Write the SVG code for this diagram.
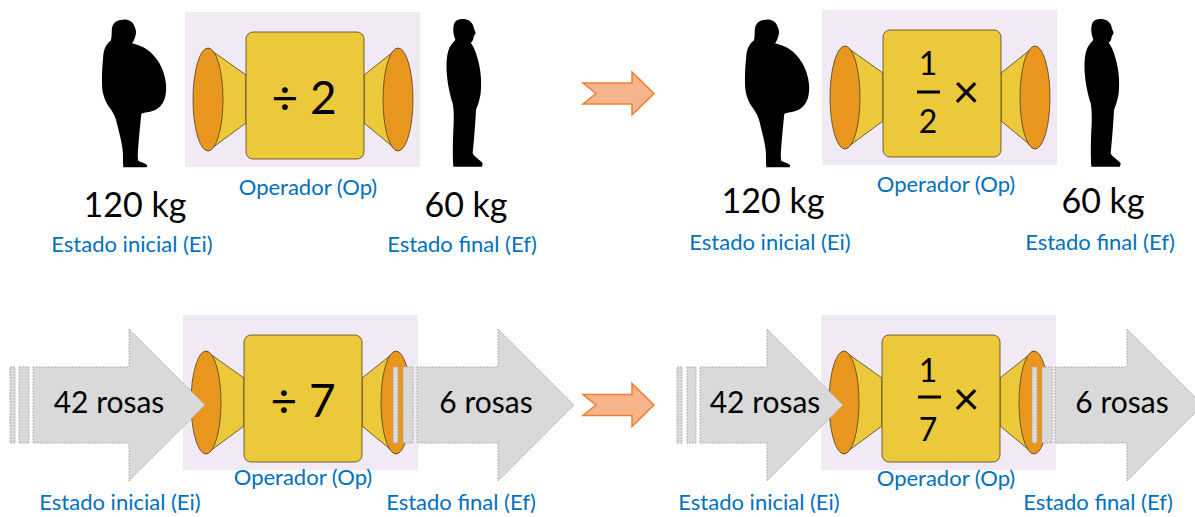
<svg xmlns="http://www.w3.org/2000/svg" xmlns:xlink="http://www.w3.org/1999/xlink" width="1195" height="517" viewBox="0 0 1195 517">
  <style>
    .big { font-family: Lato, "Liberation Sans", sans-serif; font-size: 34px; fill: #000; text-anchor: middle; }
    .ros { font-family: Lato, "Liberation Sans", sans-serif; font-size: 30px; fill: #000; text-anchor: middle; }
    .lbl { font-family: Lato, "Liberation Sans", sans-serif; font-size: 22px; fill: #0070C0; text-anchor: middle; }
    .op  { font-family: Lato, "Liberation Sans", sans-serif; font-size: 46px; fill: #000; text-anchor: middle; }
    .frac { font-family: Lato, "Liberation Sans", sans-serif; font-size: 32px; fill: #000; text-anchor: middle; }
    .bg { fill: #F1EAF4; }
    .body { fill: #ECC93A; stroke: #4F4320; stroke-width: 0.8; }
    .cone { fill: #ECC93A; stroke: #4F4320; stroke-width: 0.8; stroke-linejoin: round; }
    .mouth { fill: #E9961F; stroke: #4F4320; stroke-width: 0.8; }
    .gray { fill: #D9D9D9; stroke: #A6A6A6; stroke-width: 0.8; stroke-dasharray: 2 1; }
    .step { fill: #F5B48A; stroke: #EE7D33; stroke-width: 1.5; stroke-linejoin: miter; }
    .sil { fill: #000; }
  </style>
  <defs>
    <!-- operator machine: lavender panel, two funnels and the central block -->
    <g id="machine">
      <rect class="bg" x="0" y="0" width="235" height="155"/>
      <polygon class="cone" points="23,36 61,63 61,111 23,139"/>
      <polygon class="cone" points="179,63 213,36 213,139 179,111"/>
      <ellipse class="mouth" cx="23" cy="87.5" rx="15" ry="51.5"/>
      <ellipse class="mouth" cx="213" cy="87.5" rx="15" ry="51.5"/>
      <rect class="body" x="61" y="20" width="118" height="127" rx="7" ry="7"/>
    </g>
    <!-- heavy person in profile -->
    <path id="heavy" class="sil" transform="scale(0.3333)" d="M 92,30 C 110,25 128,32 133,48 C 138,58 140,68 136,78 C 134,88 130,95 126,100 C 140,104 155,108 170,118 C 200,138 224,178 228,222 C 231,258 222,286 196,300 C 178,308 162,306 154,312 C 151,340 148,370 146,395 C 144,420 142,440 145,452 C 155,458 168,460 172,466 L 170,472 L 100,472 C 98,455 100,440 98,420 C 95,395 88,370 82,345 C 78,325 70,308 58,292 C 45,275 36,250 36,220 C 35,190 38,160 40,135 C 42,115 50,100 62,92 C 66,85 64,70 66,55 C 68,40 78,32 92,30 Z"/>
    <!-- slim person in profile -->
    <path id="slim" class="sil" transform="scale(0.3333)" d="M 60,28 C 78,25 95,32 100,48 C 102,58 106,64 107,70 C 105,74 102,76 101,80 C 100,88 98,94 92,98 C 100,108 108,125 114,150 C 122,180 126,215 122,250 C 118,275 112,290 108,300 C 106,340 102,390 98,430 C 102,440 118,448 128,460 L 126,470 L 40,470 C 38,440 38,400 40,360 C 42,330 42,300 38,280 C 30,255 22,220 20,185 C 18,150 22,125 30,110 C 38,98 46,92 46,88 C 40,75 38,55 42,42 C 46,32 52,29 60,28 Z"/>
    <!-- orange step arrow -->
    <polygon id="stepArrow" class="step" points="583,83 632,83 632,72 654,93.5 632,115 632,104 583,104 596,93.5"/>
  </defs>

  <!-- ===== Top left: 120 kg -> ÷2 -> 60 kg ===== -->
  <g id="op-div2">
    <use xlink:href="#machine" href="#machine" x="185" y="12"/>
    <text class="op" x="304" y="114">÷ 2</text>
  </g>
  <g id="person-120-a">
    <use xlink:href="#heavy" href="#heavy" transform="translate(90,10)"/>
  </g>
  <g id="person-60-a">
    <use xlink:href="#slim" href="#slim" transform="translate(440,10)"/>
  </g>

  <!-- ===== Top right: 120 kg -> 1/2 × -> 60 kg ===== -->
  <g id="op-half">
    <use xlink:href="#machine" href="#machine" x="822" y="10"/>
    <text class="frac" x="928" y="75">1</text>
    <rect x="917" y="90.5" width="23" height="3" fill="#000"/>
    <text class="frac" x="928" y="133">2</text>
    <text class="op" x="966" y="108">×</text>
  </g>
  <g id="person-120-b">
    <use xlink:href="#heavy" href="#heavy" transform="translate(733,10)"/>
  </g>
  <g id="person-60-b">
    <use xlink:href="#slim" href="#slim" transform="translate(1078,10)"/>
  </g>

  <!-- ===== Bottom left: 42 rosas -> ÷7 -> 6 rosas ===== -->
  <g id="op-div7">
    <use xlink:href="#machine" href="#machine" x="183" y="315"/>
    <text class="op" x="303" y="417">÷ 7</text>
  </g>

  <!-- ===== Bottom right: 42 rosas -> 1/7 × -> 6 rosas ===== -->
  <g id="op-seventh">
    <use xlink:href="#machine" href="#machine" x="821" y="315"/>
    <text class="frac" x="928" y="382">1</text>
    <rect x="918" y="395.5" width="23" height="3" fill="#000"/>
    <text class="frac" x="928" y="441">7</text>
    <text class="op" x="966" y="415">×</text>
  </g>

  <!-- ===== Flow arrows (state containers) and step arrows ===== -->
  <g id="connectors">
    <g id="in-42-a">
      <rect class="gray" x="10" y="367" width="5" height="76"/>
      <rect class="gray" x="19" y="367" width="10" height="76"/>
      <polygon class="gray" points="33,367 129,367 129,329 205,405 129,481 129,443 33,443"/>
      <text class="ros" x="109" y="413">42 rosas</text>
    </g>
    <g id="out-6-a">
      <rect class="gray" x="393" y="367" width="5" height="76"/>
      <rect class="gray" x="403" y="367" width="10" height="76"/>
      <polygon class="gray" points="417,367 498,367 498,329 574,405 498,481 498,443 417,443"/>
      <text class="ros" x="486" y="413">6 rosas</text>
    </g>
    <g id="in-42-b">
      <rect class="gray" x="677" y="367" width="5" height="76"/>
      <rect class="gray" x="687" y="367" width="9" height="76"/>
      <polygon class="gray" points="700,367 767,367 767,329 843,405 767,481 767,443 700,443"/>
      <text class="ros" x="765" y="413">42 rosas</text>
    </g>
    <g id="out-6-b">
      <rect class="gray" x="1032" y="367" width="5" height="76"/>
      <rect class="gray" x="1042" y="367" width="10" height="76"/>
      <polygon class="gray" points="1055,367 1127,367 1127,329 1203,405 1127,481 1127,443 1055,443"/>
      <text class="ros" x="1122" y="413">6 rosas</text>
    </g>
    <use xlink:href="#stepArrow" href="#stepArrow"/>
    <use xlink:href="#stepArrow" href="#stepArrow" y="311.5"/>
  </g>

  <!-- ===== Labels ===== -->
  <g id="labels">
    <text class="big" x="135" y="217">120 kg</text>
    <text class="big" x="466" y="217">60 kg</text>
    <text class="lbl" x="132" y="252">Estado inicial (Ei)</text>
    <text class="lbl" x="308" y="195">Operador (Op)</text>
    <text class="lbl" x="462" y="252">Estado final (Ef)</text>

    <text class="big" x="773" y="213">120 kg</text>
    <text class="big" x="1103" y="213">60 kg</text>
    <text class="lbl" x="770" y="250">Estado inicial (Ei)</text>
    <text class="lbl" x="946" y="192">Operador (Op)</text>
    <text class="lbl" x="1100" y="250">Estado final (Ef)</text>

    <text class="lbl" x="303" y="485">Operador (Op)</text>
    <text class="lbl" x="120" y="510">Estado inicial (Ei)</text>
    <text class="lbl" x="461" y="510">Estado final (Ef)</text>

    <text class="lbl" x="946" y="486">Operador (Op)</text>
    <text class="lbl" x="759" y="510">Estado inicial (Ei)</text>
    <text class="lbl" x="1098" y="510">Estado final (Ef)</text>
  </g>
</svg>
